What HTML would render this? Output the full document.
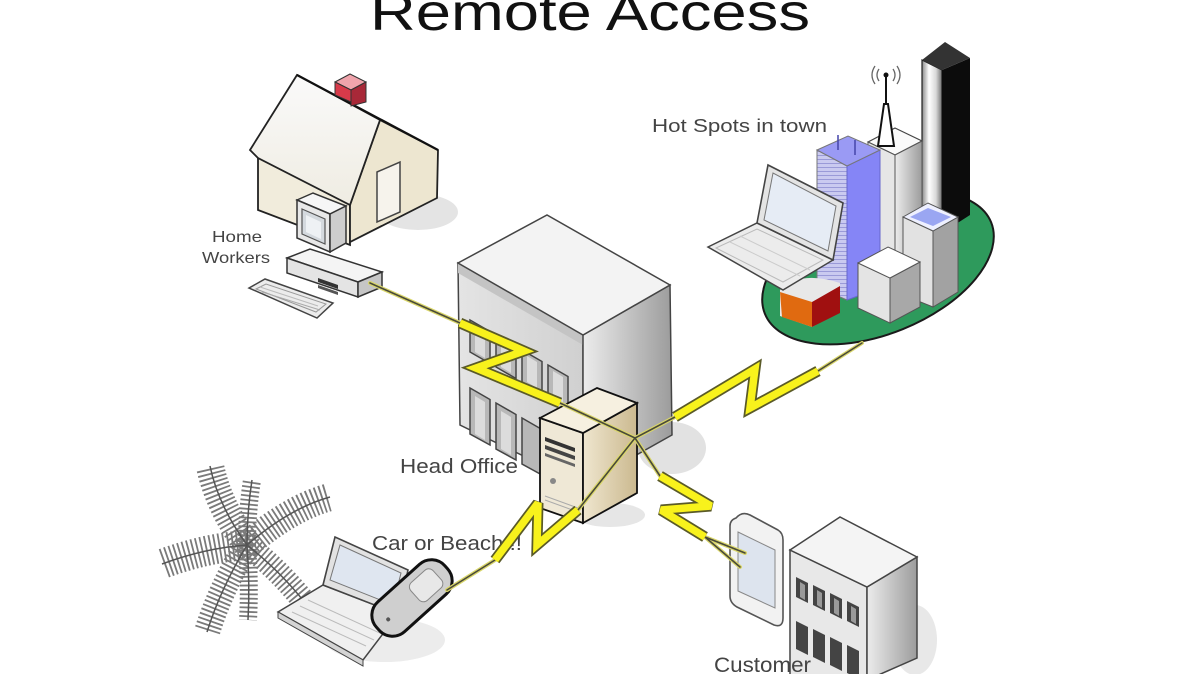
<!DOCTYPE html>
<html><head><meta charset="utf-8"><style>html,body{margin:0;padding:0;background:#fff;width:1200px;height:674px;overflow:hidden}</style></head>
<body>
<svg width="1200" height="674" viewBox="0 0 1200 674" xmlns="http://www.w3.org/2000/svg" font-family="'Liberation Sans', Arial, sans-serif">
<defs>
<linearGradient id="gL" x1="0" x2="1" y1="0" y2="0"><stop offset="0" stop-color="#e4e4e4"/><stop offset="1" stop-color="#d0d0d0"/></linearGradient>
<linearGradient id="gR" x1="0" x2="1" y1="0" y2="0"><stop offset="0" stop-color="#ececec"/><stop offset="1" stop-color="#9c9c9c"/></linearGradient>
<linearGradient id="gTw" x1="0" x2="1" y1="0" y2="0"><stop offset="0" stop-color="#8a8a8a"/><stop offset="0.35" stop-color="#ffffff"/><stop offset="0.7" stop-color="#d8d8d8"/><stop offset="1" stop-color="#707070"/></linearGradient>
<linearGradient id="gSv" x1="0" x2="1" y1="0" y2="0"><stop offset="0" stop-color="#efe6cf"/><stop offset="1" stop-color="#cbb98f"/></linearGradient>
<linearGradient id="gRoof" x1="0" x2="0" y1="0" y2="1"><stop offset="0" stop-color="#fafafa"/><stop offset="1" stop-color="#efece2"/></linearGradient>
<pattern id="stripes" width="6" height="4" patternUnits="userSpaceOnUse"><rect width="6" height="4" fill="#cacaf0"/><rect y="3" width="6" height="1" fill="#9a9ad8"/></pattern>
</defs>

<!-- Title -->
<text x="590" y="30" font-size="52" text-anchor="middle" textLength="440" lengthAdjust="spacingAndGlyphs" fill="#111">Remote Access</text>

<!-- ===== House ===== -->
<ellipse cx="418" cy="212" rx="40" ry="18" fill="#e4e4e4"/>
<polygon points="258,156 350,205 350,245 258,210" fill="#f1ecdc" stroke="#222" stroke-width="1.8"/>
<polygon points="380,120 438,150 437,198 350,242 350,205" fill="#ede6d0" stroke="#222" stroke-width="1.8"/>
<polygon points="250,150 297,75 380,120 350,205 258,158" fill="url(#gRoof)" stroke="#222" stroke-width="1.8"/>
<polyline points="297,75 438,150" stroke="#111" stroke-width="2.2" fill="none"/>
<polygon points="377,172 400,162 400,212 377,222" fill="#f6f3ec" stroke="#444" stroke-width="1.5"/>
<polygon points="335,82 350,74 366,82 351,90" fill="#f0a4ac" stroke="#333" stroke-width="1"/>
<polygon points="335,82 351,90 351,102 335,95" fill="#d83a4a" stroke="#333" stroke-width="1"/>
<polygon points="351,90 366,82 366,102 351,106" fill="#a82838" stroke="#333" stroke-width="1"/>

<!-- Home computer -->
<polygon points="287,258 310,249 382,272 358,282" fill="#f4f4f4" stroke="#333" stroke-width="1.5"/>
<polygon points="287,258 358,282 358,297 287,273" fill="#e4e4e4" stroke="#333" stroke-width="1.5"/>
<polygon points="358,282 382,272 382,287 358,297" fill="#c6c6c6" stroke="#333" stroke-width="1.5"/>
<polygon points="318,278 338,285 338,289 318,282" fill="#333"/>
<polygon points="318,285 338,292 338,295 318,288" fill="#555"/>
<polygon points="297,200 313,193 346,206 330,214" fill="#f6f6f6" stroke="#333" stroke-width="1.5"/>
<polygon points="297,200 330,214 330,252 297,238" fill="#e8e8e8" stroke="#333" stroke-width="1.5"/>
<polygon points="330,214 346,206 346,243 330,252" fill="#cdcdcd" stroke="#333" stroke-width="1.5"/>
<polygon points="302,209 325,219 325,244 302,234" fill="#d4d9de" stroke="#555" stroke-width="1.2"/>
<polygon points="306,215 321,222 321,239 306,232" fill="#eef1f4"/>
<polygon points="249,288 265,279 333,303 317,318" fill="#ececec" stroke="#444" stroke-width="1.5"/>
<polygon points="256,289 266,284 326,304 316,312" fill="none" stroke="#999" stroke-width="1"/>
<line x1="262" y1="292" x2="320" y2="310" stroke="#aaa" stroke-width="1"/>
<line x1="260" y1="287" x2="318" y2="306" stroke="#bbb" stroke-width="1"/>

<text x="212" y="242" font-size="16" fill="#444" textLength="50" lengthAdjust="spacingAndGlyphs">Home</text>
<text x="202" y="263" font-size="16" fill="#444" textLength="68" lengthAdjust="spacingAndGlyphs">Workers</text>

<!-- ===== Head office ===== -->
<ellipse cx="672" cy="448" rx="34" ry="26" fill="#e2e2e2"/>
<polygon points="458,263 583,335 583,485 460,425" fill="url(#gL)" stroke="#444" stroke-width="1.5"/>
<polygon points="458,263 583,335 583,345 458,273" fill="#c4c4c4"/>
<polygon points="583,335 670,285 672,435 583,485" fill="url(#gR)" stroke="#444" stroke-width="1.5"/>
<polygon points="458,263 547,215 670,285 583,335" fill="#f3f3f3" stroke="#444" stroke-width="1.5"/>
<g fill="#b8b8b8" stroke="#444" stroke-width="1.5">
<polygon points="470,320 490,331.5 490,363.5 470,352"/>
<polygon points="496,335 516,346.5 516,378.5 496,367"/>
<polygon points="522,350 542,361.5 542,393.5 522,382"/>
<polygon points="548,365 568,376.5 568,408.5 548,397"/>
<polygon points="470,388 490,399.5 490,445 470,434"/>
<polygon points="496,403 516,414.5 516,460 496,449"/>
<polygon points="522,418 542,429.5 542,475 522,464"/>
</g>
<g fill="#dcdcdc">
<polygon points="475,326 485,332 485,358 475,352"/>
<polygon points="501,341 511,347 511,373 501,367"/>
<polygon points="527,356 537,362 537,388 527,382"/>
<polygon points="553,371 563,377 563,403 553,397"/>
<polygon points="475,396 485,402 485,440 475,434"/>
<polygon points="501,411 511,417 511,455 501,449"/>
</g>

<!-- Server -->
<ellipse cx="610" cy="515" rx="35" ry="12" fill="#e6e6e6"/>
<polygon points="540,418 583,433 583,523 540,508" fill="#efe8d6" stroke="#111" stroke-width="1.8"/>
<polygon points="583,433 637,403 637,493 583,523" fill="url(#gSv)" stroke="#111" stroke-width="1.8"/>
<polygon points="540,418 597,388 637,403 583,433" fill="#f6f0e0" stroke="#111" stroke-width="1.8"/>
<polygon points="545,437 575,448 575,452 545,441" fill="#333"/>
<polygon points="545,445 575,456 575,460 545,449" fill="#444"/>
<polygon points="545,453 575,464 575,467 545,456" fill="#666"/>
<circle cx="553" cy="481" r="3" fill="#888"/>
<line x1="545" y1="496" x2="578" y2="508" stroke="#aaa" stroke-width="1"/>
<line x1="545" y1="500" x2="578" y2="512" stroke="#aaa" stroke-width="1"/>

<text x="400" y="473" font-size="20" fill="#444" textLength="118" lengthAdjust="spacingAndGlyphs">Head Office</text>

<!-- ===== Town ===== -->
<ellipse cx="878" cy="268" rx="122" ry="66" transform="rotate(-22 878 268)" fill="#2e9a5c" stroke="#1a1a1a" stroke-width="2"/>
<polygon points="922,60 942,70 942,233 922,220" fill="url(#gTw)" stroke="#222" stroke-width="1.2"/>
<polygon points="942,70 970,58 970,215 942,233" fill="#0c0c0c"/>
<polygon points="922,60 945,42 970,58 942,70" fill="#333"/>
<polygon points="868,142 895,128 922,141 895,155" fill="#fafafa" stroke="#444" stroke-width="1.2"/>
<polygon points="868,142 895,155 895,300 868,290" fill="#e6e6e6" stroke="#555" stroke-width="1"/>
<polygon points="895,155 922,141 922,285 895,300" fill="url(#gR)" stroke="#555" stroke-width="1"/>
<polygon points="878,146 884,104 888,104 894,146" fill="#fff" stroke="#111" stroke-width="2"/>
<line x1="886" y1="104" x2="886" y2="76" stroke="#111" stroke-width="2"/>
<circle cx="886" cy="75" r="2.5" fill="#111"/>
<path d="M879,69 Q875,75 879,81 M893,69 Q897,75 893,81 M875,66 Q869,75 875,84 M897,66 Q903,75 897,84" stroke="#666" stroke-width="1.3" fill="none"/>
<polygon points="817,150 847,166 847,300 817,287" fill="url(#stripes)" stroke="#777" stroke-width="1"/>
<polygon points="847,166 880,150 880,288 847,300" fill="#8585f6" stroke="#6666cc" stroke-width="1"/>
<polygon points="817,150 848,136 880,150 847,166" fill="#9a9af4" stroke="#777" stroke-width="1"/>
<line x1="838" y1="135" x2="838" y2="150" stroke="#44a" stroke-width="1.5"/>
<line x1="855" y1="140" x2="855" y2="155" stroke="#44a" stroke-width="1.5"/>
<polygon points="903,217 933,231 933,307 903,295" fill="#e2e2e2" stroke="#555" stroke-width="1"/>
<polygon points="933,231 958,217 958,292 933,307" fill="#a2a2a2" stroke="#555" stroke-width="1"/>
<polygon points="903,217 928,203 958,217 933,231" fill="#eef0ff" stroke="#555" stroke-width="1"/>
<polygon points="910,217 928,208 951,217 933,226" fill="#9aa6f2"/>
<polygon points="858,263 890,278 890,323 858,308" fill="#e4e4e4" stroke="#555" stroke-width="1"/>
<polygon points="890,278 920,262 920,307 890,323" fill="#a8a8a8" stroke="#555" stroke-width="1"/>
<polygon points="858,263 888,247 920,262 890,278" fill="#ffffff" stroke="#555" stroke-width="1"/>
<path d="M780,290 Q800,270 840,283 L840,312 L812,327 L780,316 Z" fill="#e8e8e8"/>
<polygon points="780,292 812,302 812,327 782,317" fill="#e06a10"/>
<polygon points="812,302 840,286 840,313 812,327" fill="#a01010"/>
<polygon points="708,247 757,223 833,260 783,290" fill="#ececec" stroke="#444" stroke-width="1.5"/>
<polygon points="716,248 757,229 823,260 783,282" fill="none" stroke="#bbb" stroke-width="1"/>
<line x1="730" y1="242" x2="800" y2="276" stroke="#ccc" stroke-width="1"/>
<line x1="740" y1="236" x2="810" y2="270" stroke="#ccc" stroke-width="1"/>
<polygon points="757,223 768,165 843,203 833,260" fill="#e4e4e4" stroke="#444" stroke-width="1.6"/>
<polygon points="764,220 773,173 836,206 828,251" fill="#e6ecf5" stroke="#777" stroke-width="1"/>
<text x="652" y="132" font-size="18" fill="#444" textLength="175" lengthAdjust="spacingAndGlyphs">Hot Spots in town</text>

<!-- ===== Beach ===== -->
<g fill="none" stroke="#7a7a7a">
<path d="M247,545 Q218,505 210,466" stroke-width="28" stroke-dasharray="1.8 2.6"/>
<path d="M247,545 Q247,512 252,480" stroke-width="18" stroke-dasharray="1.8 2.6"/>
<path d="M247,545 Q290,508 330,497" stroke-width="28" stroke-dasharray="1.8 2.6"/>
<path d="M247,545 Q205,548 162,564" stroke-width="30" stroke-dasharray="1.8 2.6"/>
<path d="M247,545 Q220,590 207,632" stroke-width="26" stroke-dasharray="1.8 2.6"/>
<path d="M247,545 Q250,585 248,620" stroke-width="18" stroke-dasharray="1.8 2.6"/>
<path d="M247,545 Q285,575 312,612" stroke-width="24" stroke-dasharray="1.8 2.6"/>
</g>
<g fill="none" stroke="#555" stroke-width="1.5">
<path d="M247,545 Q218,505 210,466"/><path d="M247,545 Q247,512 252,480"/>
<path d="M247,545 Q290,508 330,497"/><path d="M247,545 Q205,548 162,564"/>
<path d="M247,545 Q220,590 207,632"/><path d="M247,545 Q250,585 248,620"/>
<path d="M247,545 Q285,575 312,612"/>
</g>
<ellipse cx="385" cy="640" rx="60" ry="22" fill="#ececec"/>
<polygon points="278,612 323,585 398,614 363,660" fill="#f0f0f0" stroke="#444" stroke-width="1.5"/>
<polygon points="278,612 363,660 363,666 278,618" fill="#d4d4d4" stroke="#444" stroke-width="1"/>
<line x1="292" y1="612" x2="366" y2="646" stroke="#bbb" stroke-width="1"/>
<line x1="300" y1="606" x2="374" y2="640" stroke="#bbb" stroke-width="1"/>
<line x1="308" y1="600" x2="382" y2="634" stroke="#bbb" stroke-width="1"/>
<polygon points="323,585 335,537 408,570 398,614" fill="#e2e2e2" stroke="#444" stroke-width="1.6"/>
<polygon points="330,580 340,545 401,573 393,605" fill="#dfe6f0" stroke="#777" stroke-width="1"/>
<g transform="translate(412,598) rotate(-42)">
<rect x="-46" y="-20" width="92" height="40" rx="18" fill="#cfcfcf" stroke="#111" stroke-width="3"/>
<rect x="4" y="-12" width="30" height="24" rx="6" fill="#e8e8e8" stroke="#888" stroke-width="1"/>
<circle cx="-32" cy="0" r="2" fill="#555"/>
</g>
<text x="372" y="550" font-size="20" fill="#444" textLength="150" lengthAdjust="spacingAndGlyphs">Car or Beach !!</text>

<!-- ===== Customer ===== -->
<ellipse cx="915" cy="640" rx="22" ry="35" fill="#e8e8e8"/>
<polygon points="790,550 867,587 867,680 790,680" fill="#e8e8e8" stroke="#444" stroke-width="1.5"/>
<polygon points="867,587 917,557 917,658 867,680" fill="url(#gR)" stroke="#444" stroke-width="1.5"/>
<polygon points="790,550 840,517 917,557 867,587" fill="#f4f4f4" stroke="#444" stroke-width="1.5"/>
<g fill="#444">
<polygon points="796,577 808,583 808,603 796,597"/>
<polygon points="813,585 825,591 825,611 813,605"/>
<polygon points="830,593 842,599 842,619 830,613"/>
<polygon points="847,601 859,607 859,627 847,621"/>
<polygon points="796,621 808,627 808,655 796,649"/>
<polygon points="813,629 825,635 825,663 813,657"/>
<polygon points="830,637 842,643 842,671 830,665"/>
<polygon points="847,645 859,651 859,679 847,673"/>
</g>
<g fill="#9a9a9a">
<polygon points="800,582 805,585 805,600 800,597"/>
<polygon points="817,590 822,593 822,608 817,605"/>
<polygon points="834,598 839,601 839,616 834,613"/>
<polygon points="851,606 856,609 856,624 851,621"/>
</g>
<path d="M736,518 Q742,511 750,515 L778,530 Q783,533 783,540 L783,618 Q783,628 774,625 L737,607 Q730,603 730,596 L730,526 Q730,520 736,518 Z" fill="#f2f2f2" stroke="#555" stroke-width="1.6"/>
<polygon points="738,532 775,550 775,608 738,591" fill="#dde4ee" stroke="#888" stroke-width="1"/>
<text x="714" y="672" font-size="21" fill="#444" textLength="97" lengthAdjust="spacingAndGlyphs">Customer</text>

<!-- ===== Connections ===== -->
<g fill="none" stroke-linecap="round">
<g stroke="#d9d66a" stroke-width="4">
<polyline points="370,283 460,323"/><polyline points="560,403 635,438"/>
<polyline points="862,343 818,371"/><polyline points="675,417 635,438"/>
<polyline points="447,590 495,560"/><polyline points="578,510 635,438"/>
<polyline points="635,438 660,476"/><polyline points="705,537 745,553"/><polyline points="705,537 740,567"/>
</g>
<g stroke="#4a4a3a" stroke-width="1.6">
<polyline points="370,283 460,323"/><polyline points="560,403 635,438"/>
<polyline points="862,343 818,371"/><polyline points="675,417 635,438"/>
<polyline points="447,590 495,560"/><polyline points="578,510 635,438"/>
<polyline points="635,438 660,476"/><polyline points="705,537 745,553"/><polyline points="705,537 740,567"/>
</g>
</g>
<g fill="none" stroke-linejoin="miter" stroke-miterlimit="3">
<g stroke="#5a5a28" stroke-width="11">
<polyline points="460,323 524,351 476,368 560,403"/>
<polyline points="675,417 755,369 750,408 818,371"/>
<polyline points="495,560 538,503 537,545 578,510"/>
<polyline points="660,476 711,506 661,510 705,537"/>
</g>
<g stroke="#f8f21c" stroke-width="7.5">
<polyline points="460,323 524,351 476,368 560,403"/>
<polyline points="675,417 755,369 750,408 818,371"/>
<polyline points="495,560 538,503 537,545 578,510"/>
<polyline points="660,476 711,506 661,510 705,537"/>
</g>
</g>
</svg>
</body></html>
